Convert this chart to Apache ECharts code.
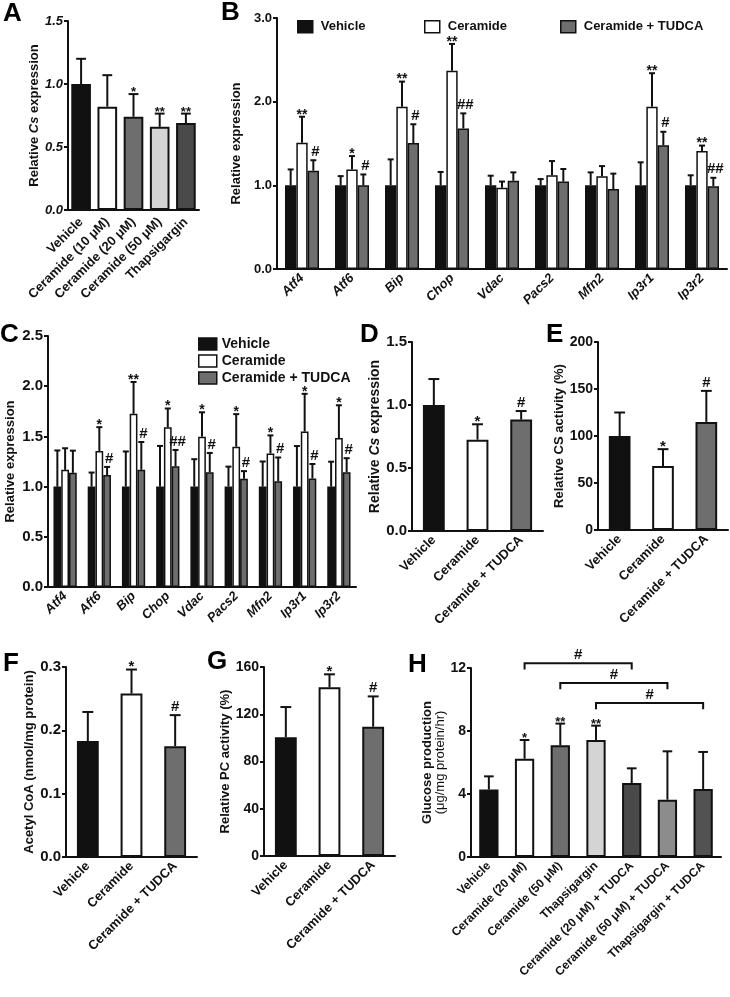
<!DOCTYPE html>
<html><head><meta charset="utf-8">
<script src="https://cdn.jsdelivr.net/npm/echarts@6/dist/echarts.min.js"></script>
<style>html,body{margin:0;padding:0;background:#fff}#c{width:730px;height:997px}</style>
</head><body><div id="c"></div>
<script>
// ---------- DATA ----------
// Panel A
const catA = ['Vehicle', 'Ceramide (10 μM)', 'Ceramide (20 μM)', 'Ceramide (50 μM)', 'Thapsigargin'];
const valA = [1.00, 0.82, 0.74, 0.66, 0.69];
const errA = [0.20, 0.25, 0.18, 0.105, 0.075];
const sigA = ['', '', '*', '**', '**'];
// Panel B
const catB = ['Atf4', 'Atf6', 'Bip', 'Chop', 'Vdac', 'Pacs2', 'Mfn2', 'Ip3r1', 'Ip3r2'];
const vehB = [1, 1, 1, 1, 1, 1, 1, 1, 1];
const vehBErr = [0.19, 0.11, 0.31, 0.16, 0.115, 0.075, 0.155, 0.275, 0.12];
const cerB = [1.51, 1.19, 1.94, 2.37, 0.97, 1.12, 1.11, 1.94, 1.41];
const cerBErr = [0.31, 0.16, 0.30, 0.32, 0.075, 0.17, 0.12, 0.40, 0.065];
const tudB = [1.175, 1.00, 1.505, 1.68, 1.055, 1.045, 0.955, 1.48, 0.99];
const tudBErr = [0.125, 0.13, 0.225, 0.18, 0.10, 0.15, 0.185, 0.16, 0.10];
const sigCerB = ['**', '*', '**', '**', '', '', '', '**', '**'];
const sigTudB = ['#', '#', '#', '##', '', '', '', '#', '##'];
// Panel C
const catC = ['Atf4', 'Aft6', 'Bip', 'Chop', 'Vdac', 'Pacs2', 'Mfn2', 'Ip3r1', 'Ip3r2'];
const vehC = [1, 1, 1, 1, 1, 1, 1, 1, 1];
const vehCErr = [0.36, 0.14, 0.35, 0.405, 0.273, 0.199, 0.25, 0.404, 0.248];
const cerC = [1.167, 1.355, 1.725, 1.592, 1.497, 1.397, 1.33, 1.548, 1.483];
const cerCErr = [0.215, 0.237, 0.317, 0.186, 0.243, 0.325, 0.18, 0.376, 0.327];
const tudC = [1.137, 1.115, 1.167, 1.202, 1.142, 1.078, 1.053, 1.081, 1.144];
const tudCErr = [0.221, 0.081, 0.277, 0.163, 0.193, 0.076, 0.237, 0.144, 0.139];
const sigCerC = ['', '*', '**', '*', '*', '*', '*', '*', '*'];
const sigTudC = ['', '#', '#', '##', '#', '#', '#', '#', '#'];
// Panels D-G
const catTrt = ['Vehicle', 'Ceramide', 'Ceramide + TUDCA'];
const valD = [1.00, 0.725, 0.884];
const errD = [0.206, 0.122, 0.068];
const valE = [100, 68, 115];
const errE = [25, 18, 33];
const valF = [0.183, 0.258, 0.175];
const errF = [0.046, 0.038, 0.049];
const valG = [100.6, 142.8, 109.4];
const errG = [25.5, 11, 25.7];
const sigTrt = ['', '*', '#'];
// Panel H
const catH = ['Vehicle', 'Ceramide (20 μM)', 'Ceramide (50 μM)', 'Thapsigargin',
  'Ceramide (20 μM) + TUDCA', 'Ceramide (50 μM) + TUDCA', 'Thapsigargin + TUDCA'];
const valH = [4.28, 6.24, 7.09, 7.43, 4.70, 3.64, 4.32];
const errH = [0.84, 1.19, 1.38, 0.91, 0.93, 3.07, 2.35];
const sigH = ['', '*', '**', '**', '', '', ''];
const bracketH = [[1, 4, 12.3], [2, 5, 11.05], [3, 6, 9.78]];
const bracketSig = ['#', '#', '#'];
// Legend names
const groups = ['Vehicle', 'Ceramide', 'Ceramide + TUDCA'];

// ---------- STYLE ----------
const FONT = '"Liberation Sans", Arial, sans-serif';
const INK = '#111111';
const BLACK = '#111111', WHITE = '#ffffff', GRAY = '#6e6e6e', LIGHT = '#d4d4d4', DARK = '#4a4a4a', MID = '#8c8c8c';
const colA = [BLACK, WHITE, GRAY, LIGHT, DARK];
const colTrt = [BLACK, WHITE, GRAY];
const colH = [BLACK, WHITE, GRAY, LIGHT, DARK, MID, '#525252'];

const grids = [
  {left: 68, top: 21, width: 131, height: 189},   // A
  {left: 277, top: 18, width: 450, height: 251},  // B
  {left: 48, top: 336, width: 308, height: 251},  // C
  {left: 412, top: 342, width: 131, height: 189}, // D
  {left: 598, top: 342, width: 130, height: 188}, // E
  {left: 66, top: 667, width: 131, height: 190},  // F
  {left: 264, top: 667, width: 131, height: 189}, // G
  {left: 471, top: 668, width: 250, height: 189}  // H
];

function xAx(gi, cats, italic, fs, margin) {
  return {
    type: 'category', gridIndex: gi, data: cats, boundaryGap: true,
    axisLine: {lineStyle: {color: INK, width: 2}},
    axisTick: {alignWithLabel: true, length: 5, lineStyle: {color: INK, width: 2}},
    axisLabel: {rotate: 45, margin: margin || 7, interval: 0, color: INK, fontFamily: FONT,
      fontWeight: 'bold', fontStyle: italic ? 'italic' : 'normal', fontSize: fs}
  };
}
function yAx(gi, max, interval, dec, name, gap, fs, lfs, italicLabels, rich) {
  const o = {
    type: 'value', gridIndex: gi, min: 0, max: max, interval: interval,
    axisLine: {show: true, lineStyle: {color: INK, width: 2}},
    axisTick: {show: true, length: 4, lineStyle: {color: INK, width: 2}},
    splitLine: {show: false},
    axisLabel: {margin: 5, color: INK, fontFamily: FONT, fontWeight: 'bold', fontSize: lfs,
      fontStyle: italicLabels ? 'italic' : 'normal',
      formatter: v => v.toFixed(dec)},
    name: name, nameLocation: 'middle', nameGap: gap,
    nameTextStyle: {color: INK, fontFamily: FONT, fontWeight: 'bold', fontSize: fs}
  };
  if (rich) o.nameTextStyle.rich = rich;
  return o;
}
function bars(gi, name, vals, colors, extra) {
  const arr = Array.isArray(colors);
  return Object.assign({
    type: 'bar', name: name, xAxisIndex: gi, yAxisIndex: gi, silent: true, animation: false,
    data: vals.map((v, i) => ({value: v, itemStyle: {color: arr ? colors[i] : colors}})),
    itemStyle: {color: arr ? colors[0] : colors, borderColor: INK, borderWidth: 2}
  }, extra || {});
}
function errs(gi, vals, es, sigs, nSer, idx, frac, fs) {
  return {
    type: 'custom', xAxisIndex: gi, yAxisIndex: gi, silent: true, animation: false, z: 5, clip: false,
    data: vals.map((v, i) => [i, v, es[i]]),
    renderItem: (params, api) => {
      const i = api.value(0), v = api.value(1), e = api.value(2);
      const band = api.size([1, 0])[0];
      let bw, off;
      if (nSer === 1) { bw = band * frac; off = 0; }
      else { bw = band * frac / nSer; off = (idx - (nSer - 1) / 2) * bw; }
      const p0 = api.coord([i, v]);
      const p1 = api.coord([i, v + e]);
      const cx = p0[0] + off;
      const cap = Math.max(6, bw * 0.5);
      const s = (sigs && sigs[params.dataIndex]) || '';
      const ch = [
        {type: 'line', shape: {x1: cx, y1: p0[1], x2: cx, y2: p1[1]}, style: {stroke: INK, lineWidth: 2}},
        {type: 'line', shape: {x1: cx - cap / 2, y1: p1[1], x2: cx + cap / 2, y2: p1[1]}, style: {stroke: INK, lineWidth: 2}}
      ];
      if (s) ch.push({type: 'text', style: {text: s, x: cx + (s.indexOf('#') >= 0 && nSer > 1 ? 2 : 0),
        y: p1[1] + (s.indexOf('*') >= 0 ? 5 : -1), align: 'center', verticalAlign: 'bottom',
        font: 'bold ' + fs + 'px ' + FONT, fill: INK}});
      return {type: 'group', children: ch};
    }
  };
}
const rs = (fs) => ({
  b: {fontFamily: FONT, fontWeight: 'bold', fontSize: fs, color: INK},
  i: {fontFamily: FONT, fontWeight: 'bold', fontStyle: 'italic', fontSize: fs, color: INK},
  r: {fontFamily: FONT, fontWeight: 'normal', fontSize: fs, color: INK}
});

const grp = {barGap: '0%', barCategoryGap: '32%'};

const series = [
  // A
  bars(0, 'A', valA, colA, {barWidth: '75%'}),
  errs(0, valA, errA, sigA, 1, 0, 0.75, 13),
  // B
  bars(1, groups[0], vehB, BLACK, Object.assign({itemStyle: {color: BLACK, borderColor: INK, borderWidth: 1.5}}, grp)),
  bars(1, groups[1], cerB, WHITE, Object.assign({itemStyle: {color: WHITE, borderColor: INK, borderWidth: 1.5}}, grp)),
  bars(1, groups[2], tudB, GRAY, Object.assign({itemStyle: {color: GRAY, borderColor: INK, borderWidth: 1.5}}, grp)),
  errs(1, vehB, vehBErr, null, 3, 0, 0.68, 14),
  errs(1, cerB, cerBErr, sigCerB, 3, 1, 0.68, 14),
  errs(1, tudB, tudBErr, sigTudB, 3, 2, 0.68, 15),
  // C
  bars(2, groups[0], vehC, BLACK, Object.assign({itemStyle: {color: BLACK, borderColor: INK, borderWidth: 1.5}}, grp)),
  bars(2, groups[1], cerC, WHITE, Object.assign({itemStyle: {color: WHITE, borderColor: INK, borderWidth: 1.5}}, grp)),
  bars(2, groups[2], tudC, GRAY, Object.assign({itemStyle: {color: GRAY, borderColor: INK, borderWidth: 1.5}}, grp)),
  errs(2, vehC, vehCErr, null, 3, 0, 0.68, 14),
  errs(2, cerC, cerCErr, sigCerC, 3, 1, 0.68, 14),
  errs(2, tudC, tudCErr, sigTudC, 3, 2, 0.68, 15),
  // D
  bars(3, 'D', valD, colTrt, {barWidth: '50%'}),
  errs(3, valD, errD, sigTrt, 1, 0, 0.5, 15),
  // E
  bars(4, 'E', valE, colTrt, {barWidth: '50%'}),
  errs(4, valE, errE, sigTrt, 1, 0, 0.5, 15),
  // F
  bars(5, 'F', valF, colTrt, {barWidth: '50%'}),
  errs(5, valF, errF, sigTrt, 1, 0, 0.5, 15),
  // G
  bars(6, 'G', valG, colTrt, {barWidth: '50%'}),
  errs(6, valG, errG, sigTrt, 1, 0, 0.5, 15),
  // H
  bars(7, 'H', valH, colH, {barWidth: '54%'}),
  errs(7, valH, errH, sigH, 1, 0, 0.54, 13),
  {
    type: 'custom', xAxisIndex: 7, yAxisIndex: 7, silent: true, animation: false, clip: false, z: 5,
    data: bracketH,
    renderItem: (params, api) => {
      const a = api.coord([api.value(0), api.value(2)]);
      const b = api.coord([api.value(1), api.value(2)]);
      const drop = api.size([0, 0.4])[1];
      return {type: 'group', children: [
        {type: 'polyline', shape: {points: [[a[0], a[1] + drop], [a[0], a[1]], [b[0], b[1]], [b[0], b[1] + drop]]},
          style: {stroke: INK, lineWidth: 2, fill: null}},
        {type: 'text', style: {text: bracketSig[params.dataIndex], x: (a[0] + b[0]) / 2, y: a[1] - 1,
          align: 'center', verticalAlign: 'bottom', font: 'bold 15px ' + FONT, fill: INK}}
      ]};
    }
  }
];

const legendCommon = {
  icon: 'rect', itemWidth: 15, itemHeight: 12, selectedMode: false, padding: 0,
  itemStyle: {borderColor: INK, borderWidth: 1.5},
  textStyle: {fontFamily: FONT, fontWeight: 'bold', fontSize: 13, color: INK, padding: [0, 0, 0, 3]}
};

const letters = [['A', 3, 1], ['B', 221, 0], ['C', 0, 322], ['D', 360, 322], ['E', 546, 322],
  ['F', 3, 651], ['G', 207, 649], ['H', 408, 652]];

const option = {
  backgroundColor: '#fff',
  animation: false,
  grid: grids.map(g => Object.assign({containLabel: false}, g)),
  xAxis: [
    xAx(0, catA, false, 13, 10), xAx(1, catB, true, 13), xAx(2, catC, true, 13),
    xAx(3, catTrt, false, 13), xAx(4, catTrt, false, 13), xAx(5, catTrt, false, 13),
    xAx(6, catTrt, false, 13), xAx(7, catH, false, 12)
  ],
  yAxis: [
    yAx(0, 1.5, 0.5, 1, '{b|Relative }{i|Cs}{b| expression}', 27, 13, 13, true, rs(13)),
    yAx(1, 3, 1, 1, 'Relative expression', 32, 13, 13),
    yAx(2, 2.5, 0.5, 1, 'Relative expression', 31, 13, 15),
    yAx(3, 1.5, 0.5, 1, '{b|Relative }{i|Cs}{b| expression}', 25, 14, 15, false, rs(14)),
    yAx(4, 200, 50, 0, 'Relative CS activity (%)', 29, 13, 14),
    yAx(5, 0.3, 0.1, 1, 'Acetyl CoA (nmol/mg protein)', 25, 13, 15),
    yAx(6, 160, 40, 0, 'Relative PC activity (%)', 29, 13, 14),
    yAx(7, 12, 4, 0, '{b|Glucose production}\n{r|(μg/mg protein/hr)}', 20, 13, 14, false, rs(13))
  ],
  legend: [
    Object.assign({}, legendCommon, {data: [groups[0]], left: 297, top: 20}),
    Object.assign({}, legendCommon, {data: [groups[1]], left: 424, top: 20}),
    Object.assign({}, legendCommon, {data: [groups[2]], left: 560, top: 20}),
    Object.assign({}, legendCommon, {data: groups, orient: 'vertical', left: 198, top: 337,
      itemWidth: 18, itemGap: 3, textStyle: Object.assign({}, legendCommon.textStyle, {fontSize: 14, padding: [0, 0, 0, 0]})})
  ],
  series: series,
  graphic: letters.map(l => ({type: 'text', left: l[1], top: l[2], silent: true,
    style: {text: l[0], font: 'bold 26px ' + FONT, fill: '#000'}}))
};

const chart = echarts.init(document.getElementById('c'), null, {renderer: 'canvas'});
chart.setOption(option);
</script></body></html>
